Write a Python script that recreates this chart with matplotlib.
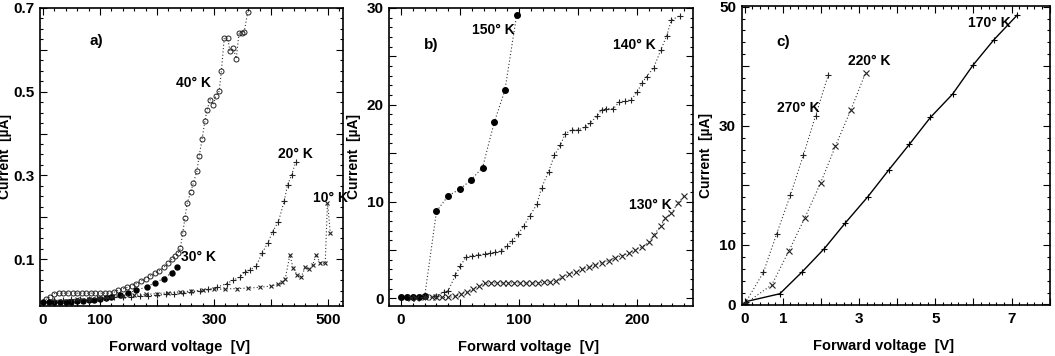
import matplotlib
matplotlib.use("Agg")
import matplotlib.pyplot as plt
from matplotlib.ticker import MultipleLocator, FixedLocator

plt.rcParams['font.family'] = ['Liberation Sans', 'DejaVu Sans']
plt.rcParams['font.weight'] = 'bold'

# ---- panel a) low temperatures, current in uA ----
v40 = [5, 12, 20, 28, 36, 44, 52, 60, 68, 76, 84, 92, 100, 108, 116, 124,
       132, 140, 148, 156, 164, 172, 180, 188, 196, 204, 212, 219, 226, 232,
       237, 241, 245, 249, 253, 259, 264, 270, 274, 279, 284, 288, 293, 299,
       303, 309, 313, 318, 324, 328, 334, 339, 344, 349, 353, 359]
i40 = [0.004, 0.01, 0.018, 0.019, 0.019, 0.019, 0.019, 0.019, 0.019, 0.019,
       0.019, 0.019, 0.019, 0.019, 0.019, 0.021,
       0.026, 0.029, 0.033, 0.037, 0.042, 0.048, 0.054, 0.06, 0.066, 0.073,
       0.081, 0.09, 0.1, 0.108,
       0.114, 0.126, 0.162, 0.198, 0.234, 0.26, 0.283, 0.31, 0.346, 0.386,
       0.43, 0.457, 0.481, 0.469, 0.489, 0.501, 0.549, 0.629, 0.627, 0.597,
       0.603, 0.579, 0.641, 0.64, 0.643, 0.689]

v30 = [0, 10, 20, 30, 40, 50, 60, 70, 80, 90, 100, 110, 120, 135, 150, 164,
       182, 196, 212, 226, 235]
i30 = [-0.002, -0.003, -0.003, -0.002, -0.002, -0.001, 0.0, 0.001, 0.002,
       0.003, 0.005, 0.007, 0.01, 0.014, 0.02, 0.026, 0.034, 0.044, 0.054,
       0.068, 0.081]

v20 = [20, 35, 50, 65, 80, 95, 110, 125, 140, 155, 170, 185, 200, 215, 230,
       245, 260, 275, 290, 305, 322, 334, 346, 354, 363, 374, 384, 394, 403,
       413, 423, 429, 436, 443]
i20 = [0.002, 0.003, 0.004, 0.005, 0.006, 0.007, 0.008, 0.009, 0.01, 0.011,
       0.012, 0.013, 0.014, 0.016, 0.018, 0.02, 0.022, 0.025, 0.028, 0.033,
       0.042, 0.05, 0.058, 0.07, 0.074, 0.084, 0.114, 0.138, 0.166, 0.19,
       0.238, 0.278, 0.3, 0.331]

v10 = [60, 80, 100, 120, 140, 160, 180, 200, 220, 240, 260, 280, 300, 320,
       340, 360, 380, 400, 412, 420, 425, 433, 439, 446, 453, 460, 467, 473,
       479, 486, 495, 499, 504]
i10 = [0.004, 0.006, 0.008, 0.01, 0.012, 0.014, 0.016, 0.018, 0.02, 0.022,
       0.024, 0.026, 0.028, 0.029, 0.03, 0.031, 0.033, 0.036, 0.04, 0.046,
       0.054, 0.11, 0.078, 0.062, 0.058, 0.081, 0.076, 0.086, 0.11, 0.092,
       0.09, 0.235, 0.163]

# ---- panel b) ----
v150 = [0, 5, 10, 15, 20, 30, 40, 50, 59, 69, 79, 88, 98]
i150 = [0.1, 0.1, 0.1, 0.1, 0.2, 9.0, 10.6, 11.3, 12.2, 13.5, 18.2, 21.5, 29.3]

v140 = [20, 30, 36, 40, 46, 50, 55, 60, 65, 71, 75, 80, 85, 90, 94, 99, 104,
        109, 115, 119, 125, 130, 135, 139, 145, 150, 156, 160, 166, 170, 174,
        180, 185, 190, 195, 200, 204, 208, 214, 220, 225, 229, 236]
i140 = [0.1, 0.3, 0.65, 0.8, 2.4, 3.3, 4.3, 4.4, 4.5, 4.6, 4.65, 4.75, 4.9,
        5.4, 5.9, 6.6, 7.5, 8.5, 9.7, 11.4, 13.1, 14.8, 15.8, 17.0, 17.4, 17.4,
        17.7, 18.1, 18.8, 19.5, 19.6, 19.6, 20.3, 20.4, 20.5, 21.3, 22.2, 22.9,
        23.8, 25.6, 27.1, 28.7, 29.2]

v130 = [8, 13, 20, 26, 30, 35, 40, 46, 51, 56, 61, 66, 71, 76, 81, 86, 91, 96,
        101, 106, 111, 116, 121, 126, 131, 136, 142, 148, 153, 159, 164, 170,
        176, 181, 187, 193, 198, 204, 210, 214, 220, 224, 229, 235, 240]
i130 = [0.05, 0.05, 0.1, 0.1, 0.1, 0.1, 0.1, 0.2, 0.5, 0.65, 0.95, 1.3, 1.55,
        1.6, 1.6, 1.6, 1.6, 1.6, 1.6, 1.6, 1.6, 1.6, 1.65, 1.7, 1.75, 2.2, 2.5,
        2.7, 3.0, 3.2, 3.45, 3.7, 3.9, 4.2, 4.4, 4.65, 5.0, 5.3, 5.8, 6.5, 7.5,
        8.3, 8.8, 9.9, 10.6]

# ---- panel c) ----
v170 = [0.04, 0.92, 1.51, 2.09, 2.64, 3.23, 3.78, 4.32, 4.87, 5.45, 5.99, 6.53, 7.15]
i170 = [0.5, 1.8, 5.5, 9.4, 13.7, 18.1, 22.6, 26.9, 31.4, 35.3, 40.2, 44.4, 48.6]

v220 = [0.05, 0.71, 1.16, 1.58, 1.99, 2.38, 2.78, 3.17]
i220 = [0.3, 3.3, 9.0, 14.6, 20.4, 26.6, 32.6, 38.9]

v270 = [0.01, 0.49, 0.84, 1.20, 1.54, 1.86, 2.19]
i270 = [0.2, 5.4, 11.9, 18.4, 25.1, 31.7, 38.5]

fig = plt.figure(figsize=(10.55, 3.56), dpi=100)
axa = fig.add_axes([0.038, 0.140, 0.287, 0.838])
axb = fig.add_axes([0.369, 0.140, 0.288, 0.838])
axc = fig.add_axes([0.703, 0.143, 0.292, 0.840])

dot = dict(color='#333333', linestyle=(0, (1, 2)), linewidth=0.8)


def style(ax, xmaj, xmin, ymaj, ymin, xlab, ylab):
    ax.xaxis.set_major_locator(FixedLocator(xmaj))
    ax.xaxis.set_minor_locator(MultipleLocator(xmin))
    ax.yaxis.set_major_locator(FixedLocator(ymaj))
    ax.yaxis.set_minor_locator(MultipleLocator(ymin))
    ax.set_xticklabels(xlab)
    ax.set_yticklabels(ylab)
    ax.tick_params(which='both', direction='in', top=True, right=True,
                   labelsize=11, width=0.8)
    ax.tick_params(which='major', length=5, pad=4)
    ax.tick_params(which='minor', length=2.5)
    ax.tick_params(axis='x', pad=5)
    for s in ax.spines.values():
        s.set_linewidth(1.2)
    ax.set_xlabel('Forward voltage  [V]', fontsize=10.5, fontweight='bold')
    ax.set_ylabel('Current  [µA]', fontsize=10, fontweight='bold')
    ax.xaxis.set_label_coords(0.46, -0.115)
    ax.yaxis.set_label_coords(-0.092, 0.5)


def deg(t):
    return t + '° K'


# panel a
axa.plot(v40, i40, marker='o', ms=3.6, mfc='none', mec='#222222', mew=0.7, **dot)
axa.plot(v30, i30, marker='o', ms=3.6, mfc='black', mec='black', **dot)
axa.plot(v20, i20, marker='+', ms=4, mec='#222222', mew=0.8, **dot)
axa.plot(v10, i10, marker='x', ms=3.5, mec='#222222', mew=0.8, **dot)
axa.set_xlim(-5, 526)
axa.set_ylim(-0.012, 0.7)
style(axa, [0, 100, 200, 300, 400, 500], 20, [0.1, 0.2, 0.3, 0.4, 0.5, 0.6, 0.7], 0.025,
      ['0', '100', '', '300', '', '500'], ['0.1', '', '0.3', '', '0.5', '', '0.7'])
axa.text(82, 0.62, 'a)', fontsize=11, fontweight='bold', va='center')
axa.text(233, 0.52, deg('40'), fontsize=10, fontweight='bold', va='center')
axa.text(242, 0.105, deg('30'), fontsize=10, fontweight='bold', va='center')
axa.text(412, 0.35, deg('20'), fontsize=10, fontweight='bold', va='center')
axa.text(473, 0.245, deg('10'), fontsize=10, fontweight='bold', va='center')

# panel b
axb.plot(v150, i150, marker='o', ms=4, mfc='black', mec='black', **dot)
axb.plot(v140, i140, marker='+', ms=5, mec='#222222', mew=0.8, **dot)
axb.plot(v130, i130, marker='x', ms=4, mec='#222222', mew=0.8, **dot)
axb.set_xlim(-10, 247.5)
axb.set_ylim(-0.8, 30.0)
style(axb, [0, 50, 100, 150, 200], 10, [0, 5, 10, 15, 20, 25, 30], 1,
      ['0', '', '100', '', '200'], ['0', '', '10', '', '20', '', '30'])
axb.text(19, 26.2, 'b)', fontsize=11, fontweight='bold', va='center')
axb.text(60, 27.7, deg('150'), fontsize=10, fontweight='bold', va='center')
axb.text(180, 26.2, deg('140'), fontsize=10, fontweight='bold', va='center')
axb.text(193, 9.6, deg('130'), fontsize=10, fontweight='bold', va='center')

# panel c
axc.plot(v170, i170, marker='+', ms=4, color='black', mec='black', mew=0.8, linewidth=1.0)
axc.plot(v220, i220, marker='x', ms=4, mec='#222222', mew=0.8, markevery=list(range(1, len(v220))), **dot)
axc.plot(v270, i270, marker='+', ms=4, mec='#222222', mew=0.8, **dot)
axc.set_xlim(-0.08, 8.0)
axc.set_ylim(-0.1, 50.1)
style(axc, [0, 1, 2, 3, 4, 5, 6, 7, 8], 0.2, [0, 10, 20, 30, 40, 50], 2,
      ['0', '1', '', '3', '', '5', '', '7', ''], ['0', '10', '', '30', '', '50'])
axc.text(0.84, 44, 'c)', fontsize=11, fontweight='bold', va='center')
axc.text(5.86, 47.2, deg('170'), fontsize=10, fontweight='bold', va='center')
axc.text(2.7, 40.9, deg('220'), fontsize=10, fontweight='bold', va='center')
axc.text(0.84, 33, deg('270'), fontsize=10, fontweight='bold', va='center')

fig.savefig('out.png', dpi=100)
